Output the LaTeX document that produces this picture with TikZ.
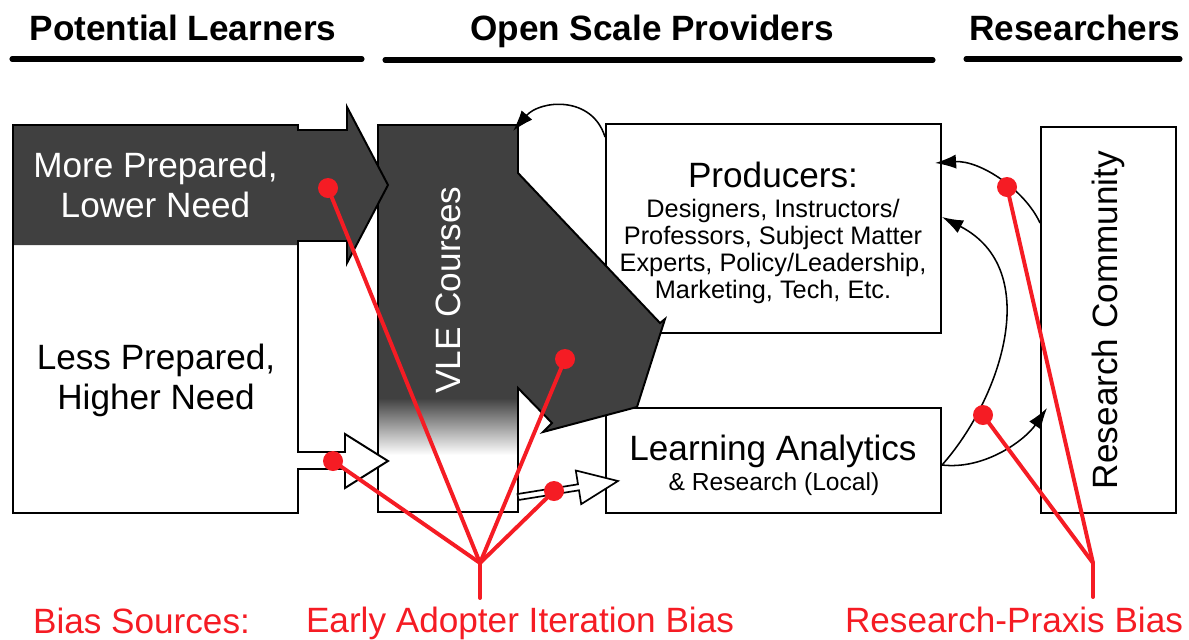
\documentclass[tikz,border=0pt]{standalone}
\usepackage{fontspec}
\setmainfont{Liberation Sans}
\usetikzlibrary{arrows.meta,calc,fit}
\definecolor{vledark}{RGB}{64,64,64}
\definecolor{biasred}{RGB}{245,28,36}
\newcommand{\lblfont}{\fontsize{25}{28.4}\selectfont}
\newcommand{\subfont}{\fontsize{18}{19.2}\selectfont}
\newcommand{\lasubfont}{\fontsize{17.5}{19.2}\selectfont}

\begin{document}
\begin{tikzpicture}[x=0.025cm, y=-0.025cm,
    box/.style={draw, line width=1.4pt, inner sep=0pt},
    shapeline/.style={draw=black, line width=1.4pt},
    flow/.style={line width=1.1pt, -{Latex[length=15pt,width=10pt]}},
    biasline/.style={draw=biasred, line width=2.8pt, line cap=round},
    biasdot/.style={circle, fill=biasred, inner sep=0pt, minimum size=0.5cm},
    rulebar/.style={line width=3.6pt, line cap=round},
    headtext/.style={font=\lblfont\bfseries, anchor=base},
    lbl/.style={font=\lblfont, align=center},
    biastext/.style={font=\lblfont, text=biasred, anchor=base}]
\useasboundingbox (0,0) rectangle (1189,639);

% column headings
\node[headtext] (hlearn) at (183,40) {Potential Learners};
\node[headtext] (hprov) at (652,40) {Open Scale Providers};
\node[headtext] (hres) at (1075,40) {Researchers};
\draw[rulebar] (12,59) -- (362,59);
\draw[rulebar] (385,60) -- (933,60);
\draw[rulebar] (966,59) -- (1180,59);

% boxes
\node[box, fit={(606,124) (941,333)}] (prod) {};
\node[box, fit={(606,408) (941,513)}] (la) {};
\node[box, fit={(1041,127) (1176,513)}] (rc) {};

% VLE courses and the big arrow
\draw[shapeline, fill=white, path picture={
    \fill[vledark] (370,100) rectangle (700,398);
    \fill[vledark] (518,398) rectangle (700,440);
    \shade[top color=vledark, bottom color=white] (370,398) rectangle (518,455);}]
  (378,125) -- (518,125) -- (518,173) -- (660,323) -- (665,319) -- (637,407)
  -- (543,432) -- (552,423) -- (518,388) -- (518,512) -- (378,512) -- cycle;

% potential learners
\draw[shapeline, fill=white, path picture={
    \fill[vledark] (0,100) -- (400,100) -- (400,270) -- (298,270) -- (298,245) -- (0,245) -- cycle;}]
  (13,125) -- (298,125) -- (298,130) -- (347,130) -- (347,107) -- (388,185)
  -- (347,263) -- (347,241) -- (298,241) -- (298,452) -- (345,452) -- (345,434)
  -- (388,461) -- (345,488) -- (345,469) -- (298,469) -- (298,513) -- (13,513) -- cycle;

% small arrow into analytics
\draw[shapeline, line width=1.2pt, fill=white] (517.5,494) -- (578,484.3) -- (575.8,470.5)
  -- (618,481) -- (581.2,504.1) -- (579,490.3) -- (518.5,500) -- cycle;

% labels
\node[lbl, text=white] (more) at (155.5,185) {More Prepared,\\Lower Need};
\node[lbl] (less) at (156,380) {Less Prepared,\\Higher Need};
\node[font=\lblfont, text=white, rotate=90] (vle) at (448,290) {VLE Courses};
\node[font=\lblfont, anchor=base] (prodhead) at (773,187) {Producers:};
\node[font=\subfont, align=center] (prodlist) at (773,251) {Designers, Instructors/\\Professors, Subject Matter\\Experts, Policy/Leadership,\\Marketing, Tech, Etc.};
\node[font=\lblfont, anchor=base] (lahead) at (773,460) {Learning Analytics};
\node[font=\lasubfont, anchor=base] (lasub) at (774,490) {\& Research (Local)};
\node[font=\lblfont, rotate=90] (rclabel) at (1108,320) {Research Community};

% feedback curves
\coordinate (vletip) at (513,131);
\draw[flow] (prod.west |- 0,137) .. controls (592,95) and (540,100) .. (vletip);
\draw[flow] (rc.west |- 0,223) .. controls (1025,190) and (980,160) .. ($(prod.east |- 0,163)+(-7,0)$);
\draw[flow] (la.east |- 0,465) .. controls (1000,400) and (1045,270) .. (prod.east |- 0,217);
\draw[flow] (la.east |- 0,465) .. controls (985,470) and (1025,440) .. ($(rc.west |- 0,408)+(7,0)$);

% bias sources
\coordinate (eahub) at (480,563);
\coordinate (eafoot) at (480,598);
\coordinate (rphub) at (1093,563);
\coordinate (rpfoot) at (1093,597);
\node[biasdot] (ea1) at (328,188) {};
\node[biasdot] (ea2) at (565,359) {};
\node[biasdot] (ea3) at (554,491) {};
\node[biasdot] (ea4) at (333,461) {};
\node[biasdot] (rp1) at (1007,187) {};
\node[biasdot] (rp2) at (983,415) {};
\foreach \d in {ea1,ea2,ea3,ea4}
  \draw[biasline] (\d.center) -- (eahub);
\foreach \d in {rp1,rp2}
  \draw[biasline] (\d.center) -- (rphub);
\draw[biasline] (eahub) -- (eafoot);
\draw[biasline] (rphub) -- (rpfoot);

\node[biastext] (bsrc) at (141.5,633) {Bias Sources:};
\node[biastext] (eabias) at (520,632) {Early Adopter Iteration Bias};
\node[biastext] (rpbias) at (1014,632) {Research-Praxis Bias};
\end{tikzpicture}
\end{document}
